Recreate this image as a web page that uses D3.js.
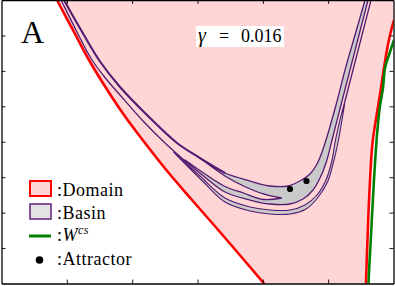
<!DOCTYPE html>
<html>
<head>
<meta charset="utf-8">
<script src="https://cdn.jsdelivr.net/npm/d3@7/dist/d3.min.js"></script>
<style>
  body { margin: 0; background: #fff; }
  svg { display: block; }
</style>
</head>
<body>
<svg width="395" height="286"></svg>
<script>
// ---- data (axis units, no labels on the axes) ----
var xTicks = [1, 2, 3, 4, 5];
var yTicks = [1, 2, 3, 4, 5, 6, 7];

// left and right edge of the domain (red)
var domainLeft = [[0.788,8.226],[0.849,8.0],[1.094,7.154],[1.339,6.307],[1.600,5.517],[1.875,4.755],
  [2.196,3.965],[2.548,3.146],[2.916,2.356],[3.344,1.453],[3.804,0.466],[4.018,0.0],[4.110,-0.212]];
var domainRight = [[6.008,7.436],[5.954,7.069],[5.900,6.589],[5.854,6.081],[5.809,5.517],[5.747,4.811],
  [5.679,3.965],[5.633,2.639],[5.602,1.228],[5.579,-0.014],[5.579,-0.24]];

// W^cs (green)
var wcs = [[6.008,6.871],[5.946,6.533],[5.870,6.081],[5.839,5.517],[5.793,5.009],[5.747,4.190],
  [5.701,2.921],[5.656,1.369],[5.617,-0.014],[5.617,-0.24]];

// basin boundaries (purple)
var basinInner = [[0.926,8.113],[0.957,8.0],[1.217,7.154],[1.492,6.307],[1.814,5.545],[2.242,4.727],
  [2.686,3.965],[3.038,3.541],[3.421,3.118],[3.804,2.892],[4.110,2.751],[4.385,2.751],[4.569,2.892],
  [4.722,3.090],[4.829,3.372],[4.906,3.711],[4.967,4.049],[5.120,5.037],[5.258,6.025],[5.411,7.012],
  [5.564,8.0],[5.579,8.113]];
var foldTop = [[3.421,3.034],[3.704,2.751],[4.010,2.526],[4.286,2.413]];
var foldBottom = [[4.010,2.370],[3.704,2.554],[3.421,2.737],[3.092,3.118],[2.809,3.485]];
var basinOuter = [[0.880,8.113],[0.911,8.0],[1.140,7.154],[1.385,6.307],[1.615,5.743],[1.814,5.319],
  [2.166,4.586],[2.503,3.965],[2.809,3.457],[3.092,3.034],[3.421,2.582],[3.804,2.356],[4.110,2.243],
  [4.416,2.243],[4.615,2.384],[4.768,2.639],[4.875,2.977],[4.967,3.400],[5.059,4.049],[5.196,5.037],
  [5.334,6.025],[5.472,7.012],[5.610,8.0],[5.625,8.113]];
var strandA = [[2.633,3.711],[3.038,3.034],[3.421,2.413],[3.804,2.159],[4.110,2.074],[4.416,2.074],
  [4.645,2.215],[4.829,2.497],[4.967,2.921],[5.059,3.485],[5.112,4.049],[5.181,4.614],[5.242,5.037],
  [5.380,6.025],[5.518,7.012],[5.656,8.0],[5.671,8.113]];
var strandB = [[2.633,3.711],[3.092,2.864],[3.421,2.300],[3.804,2.046],[4.110,1.961],[4.416,1.961],
  [4.661,2.102],[4.837,2.413],[4.990,2.864],[5.082,3.429],[5.158,4.049],[5.212,4.614],[5.250,5.037]];

// attractor points
var attractorX = [4.416, 4.668];
var attractorY = [2.667, 2.892];

var legendLabels = [":Domain", ":Basin", ":W", ":Attractor"];
var gammaValue = "0.016";

// ---- setup ----
var svg = d3.select("svg");
var x = d3.scaleLinear().domain([0, 6]).range([1.5, 393.5]);
var y = d3.scaleLinear().domain([0, 8]).range([283.5, 0]);

var pink = "#ffd5d5", grey = "#cacaca", purple = "#521a70";

svg.append("clipPath").attr("id", "plot")
  .append("rect")
  .attr("x", x(0)).attr("y", y(8))
  .attr("width", x(6) - x(0)).attr("height", y(0) - y(8));

var line = d3.line()
  .x(function (d) { return x(d[0]); })
  .y(function (d) { return y(d[1]); })
  .curve(d3.curveCatmullRom.alpha(0.5));

// join several curve pieces into one closed outline
function outline(pieces) {
  return pieces.map(function (p, i) {
    var s = line(p);
    return i ? s.replace(/^M/, "L") : s;
  }).join("") + "Z";
}

var g = svg.append("g").attr("clip-path", "url(#plot)");

// domain fill
g.append("path")
  .attr("d", outline([domainLeft, [[4.110,-0.212],[5.579,-0.24]], domainRight.slice().reverse(),
    [[6.008,7.436],[6.3,7.436],[6.3,8.4],[0.7,8.4],[0.788,8.226]]]))
  .attr("fill", pink);

// outer strand of the basin
g.append("path")
  .attr("d", outline([strandA.slice(0, 13), strandB.slice().reverse()]))
  .attr("fill", grey)
  .attr("stroke", purple)
  .attr("stroke-width", 1.1);
g.append("path")
  .attr("d", line(strandA.slice(12)))
  .attr("fill", "none")
  .attr("stroke", purple)
  .attr("stroke-width", 1.3);

// main basin band with the folded tongue
g.append("path")
  .attr("d", outline([
    basinInner.slice(7).reverse(),
    [basinInner[7]].concat(foldTop),
    [foldTop[foldTop.length - 1]].concat(foldBottom),
    basinOuter.slice(8)
  ]))
  .attr("fill", grey)
  .attr("stroke", purple)
  .attr("stroke-width", 1.3)
  .attr("stroke-linejoin", "round");

// left arm lines
g.append("path")
  .attr("d", line(basinInner.slice(0, 9)))
  .attr("fill", "none")
  .attr("stroke", purple)
  .attr("stroke-width", 2.1);
g.append("path")
  .attr("d", line(basinOuter.slice(0, 9)))
  .attr("fill", "none")
  .attr("stroke", purple)
  .attr("stroke-width", 1.3);

// domain edges
[domainLeft, domainRight].forEach(function (c) {
  g.append("path")
    .attr("d", line(c))
    .attr("fill", "none")
    .attr("stroke", "#ff0000")
    .attr("stroke-width", 2.6);
});

// W^cs
g.append("path")
  .attr("d", line(wcs))
  .attr("fill", "none")
  .attr("stroke", "#008000")
  .attr("stroke-width", 2.6);

// attractor
g.selectAll("circle.att")
  .data(attractorX)
  .enter()
  .append("circle")
  .attr("class", "att")
  .attr("cx", function (d) { return x(d); })
  .attr("cy", function (d, i) { return y(attractorY[i]); })
  .attr("r", 3.1)
  .attr("fill", "#000");

// ---- axes: inward ticks, no labels ----
function styleAxis(a) {
  a.selectAll("path").attr("stroke", "#000").attr("stroke-width", 1.3);
  a.selectAll("line").attr("stroke", "#000").attr("stroke-width", 0.9);
}
svg.append("g").attr("transform", "translate(0," + y(0) + ")")
  .call(d3.axisBottom(x).tickValues(xTicks).tickSize(-4).tickSizeOuter(0).tickFormat(""))
  .call(styleAxis);
svg.append("g").attr("transform", "translate(0," + y(8) + ")")
  .call(d3.axisTop(x).tickValues(xTicks).tickSize(-4).tickSizeOuter(0).tickFormat(""))
  .call(styleAxis);
svg.append("g").attr("transform", "translate(" + x(0) + ",0)")
  .call(d3.axisLeft(y).tickValues(yTicks).tickSize(-4).tickSizeOuter(0).tickFormat(""))
  .call(styleAxis);
svg.append("g").attr("transform", "translate(" + x(6) + ",0)")
  .call(d3.axisRight(y).tickValues(yTicks).tickSize(-4).tickSizeOuter(0).tickFormat(""))
  .call(styleAxis);

// ---- labels ----
svg.append("text")
  .attr("x", 21).attr("y", 43)
  .attr("font-family", "Liberation Serif, serif")
  .attr("font-size", 32)
  .text("A");

svg.append("rect")
  .attr("x", 196).attr("y", 26).attr("width", 88).attr("height", 21)
  .attr("fill", "#fff");
var gt = svg.append("text")
  .attr("y", 42)
  .attr("font-family", "Liberation Serif, serif")
  .attr("font-size", 18);
gt.append("tspan").attr("x", 198).attr("font-style", "italic").attr("font-size", 20).text("γ");
gt.append("tspan").attr("x", 219).text("=");
gt.append("tspan").attr("x", 241).text(gammaValue);

// ---- legend ----
var lg = svg.append("g")
  .attr("font-family", "Liberation Serif, serif")
  .attr("font-size", 18)
  .attr("letter-spacing", 0.5);
var rowY = [196, 218.5, 240.5, 264.5];

lg.append("rect").attr("x", 30).attr("y", 181).attr("width", 21).attr("height", 15)
  .attr("fill", pink).attr("stroke", "#ff0000").attr("stroke-width", 2);
lg.append("rect").attr("x", 30).attr("y", 204).attr("width", 21).attr("height", 15)
  .attr("fill", "#e3e3e3").attr("stroke", "#6a2d82").attr("stroke-width", 1.6);
lg.append("line").attr("x1", 29).attr("x2", 51).attr("y1", 236).attr("y2", 236)
  .attr("stroke", "#008000").attr("stroke-width", 3);
lg.append("circle").attr("cx", 39.5).attr("cy", 260).attr("r", 3.8).attr("fill", "#000");

legendLabels.forEach(function (lab, i) {
  var t = lg.append("text").attr("x", 57).attr("y", rowY[i]);
  if (lab === ":W") {
    t.append("tspan").text(":");
    t.append("tspan").attr("font-style", "italic").text("W");
    t.append("tspan").attr("font-style", "italic").attr("font-size", 12)
      .attr("dy", -7).text("cs");
  } else {
    t.text(lab);
  }
});
</script>
</body>
</html>
